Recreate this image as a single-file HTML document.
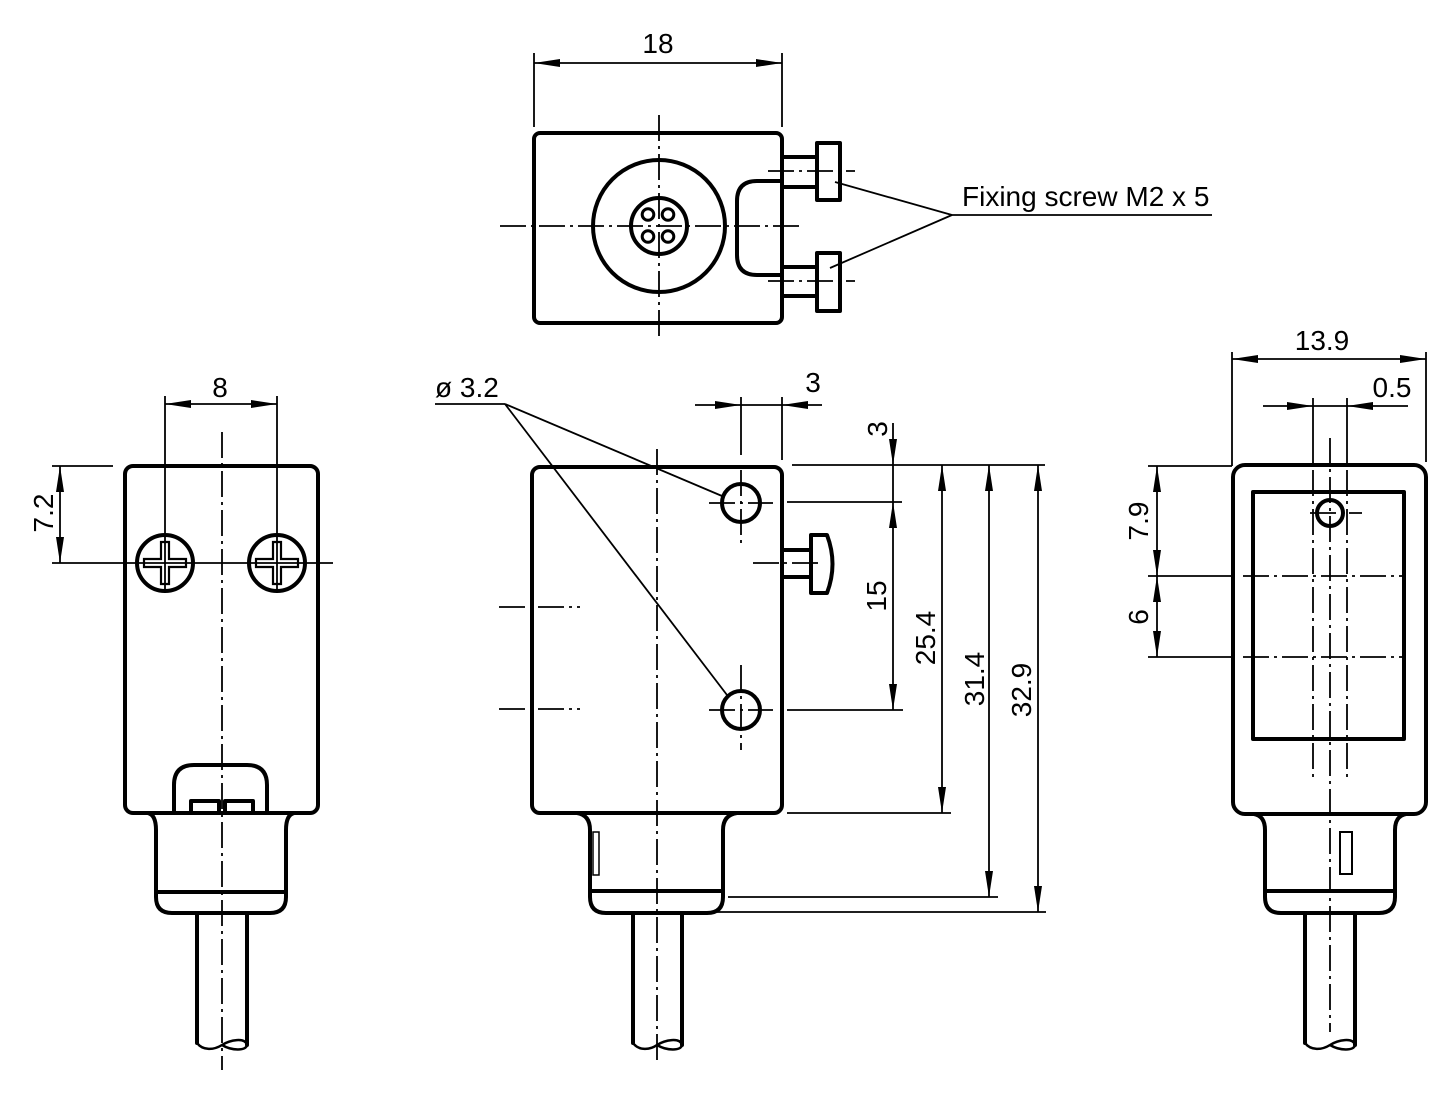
<!DOCTYPE html>
<html><head><meta charset="utf-8"><style>
html,body{margin:0;padding:0;background:#fff;}
svg{display:block;}
text{font-family:"Liberation Sans",Arial,sans-serif;font-size:28px;fill:#000;}
.k{fill:none;stroke:#000;stroke-width:4;stroke-linejoin:round;stroke-linecap:round;}
.d{fill:none;stroke:#000;stroke-width:1.8;}
.c{fill:none;stroke:#000;stroke-width:1.8;stroke-dasharray:26 5 3 5;}
.a{fill:#000;stroke:none;}
</style></head><body>
<svg width="1453" height="1098" viewBox="0 0 1453 1098" xmlns="http://www.w3.org/2000/svg">
<rect width="1453" height="1098" fill="#fff"/>

<!-- ===== TOP VIEW ===== -->
<line class="d" x1="534" y1="53" x2="534" y2="127"/>
<line class="d" x1="782" y1="53" x2="782" y2="127"/>
<line class="d" x1="534" y1="63" x2="782" y2="63"/>
<polygon class="a" points="534,63 560,59 560,67"/>
<polygon class="a" points="782,63 756,59 756,67"/>
<text x="658" y="53" text-anchor="middle">18</text>

<rect class="k" x="534" y="133" width="248" height="190" rx="6"/>
<circle class="k" cx="659" cy="226" r="66"/>
<circle class="k" cx="659" cy="226" r="28"/>
<circle fill="none" stroke="#000" stroke-width="3" cx="648" cy="214.5" r="5.8"/>
<circle fill="none" stroke="#000" stroke-width="3" cx="668" cy="214.5" r="5.8"/>
<circle fill="none" stroke="#000" stroke-width="3" cx="648" cy="236.5" r="5.8"/>
<circle fill="none" stroke="#000" stroke-width="3" cx="668" cy="236.5" r="5.8"/>
<line class="c" x1="659" y1="115" x2="659" y2="338"/>
<line class="c" x1="500" y1="226" x2="800" y2="226"/>
<!-- bracket -->
<path class="k" d="M782 181 L757 181 Q737 181 737 201 L737 255 Q737 275 757 275 L782 275"/>
<!-- screws -->
<path class="k" d="M782 157 L817 157 M782 187 L817 187"/>
<rect class="k" x="817" y="143" width="23" height="57"/>
<path class="k" d="M782 267 L817 267 M782 296 L817 296"/>
<rect class="k" x="817" y="253" width="23" height="58"/>
<line class="c" x1="768" y1="171" x2="855" y2="171"/>
<line class="c" x1="768" y1="281" x2="855" y2="281"/>
<!-- leaders -->
<line class="d" x1="835" y1="182" x2="952" y2="215"/>
<line class="d" x1="830" y1="268" x2="952" y2="215"/>
<line class="d" x1="952" y1="215" x2="1212" y2="215"/>
<text x="962" y="206">Fixing screw M2 x 5</text>

<!-- ===== LEFT VIEW ===== -->
<line class="d" x1="165" y1="396" x2="165" y2="593"/>
<line class="d" x1="277" y1="396" x2="277" y2="593"/>
<line class="d" x1="165" y1="404" x2="277" y2="404"/>
<polygon class="a" points="165,404 191,400 191,408"/>
<polygon class="a" points="277,404 251,400 251,408"/>
<text x="220" y="397" text-anchor="middle">8</text>

<line class="d" x1="52" y1="466" x2="113" y2="466"/>
<line class="d" x1="52" y1="563" x2="333" y2="563"/>
<line class="d" x1="60" y1="466" x2="60" y2="563"/>
<polygon class="a" points="60,466 56,492 64,492"/>
<polygon class="a" points="60,563 56,537 64,537"/>
<text transform="translate(53,513) rotate(-90)" text-anchor="middle">7.2</text>

<rect class="k" x="125" y="466" width="193" height="347" rx="8"/>
<line class="c" x1="222" y1="432" x2="222" y2="1070"/>
<circle class="k" cx="165" cy="563" r="28"/>
<circle class="k" cx="277" cy="563" r="28"/>
<polygon fill="none" stroke="#000" stroke-width="2.2" points="161,542 169,542 169,559 186,559 186,567 169,567 169,584 161,584 161,567 144,567 144,559 161,559"/>
<polygon fill="none" stroke="#000" stroke-width="2.2" points="273,542 281,542 281,559 298,559 298,567 281,567 281,584 273,584 273,567 256,567 256,559 273,559"/>
<!-- latch -->
<path class="k" d="M174 813 L174 785 Q174 765 194 765 L247 765 Q267 765 267 785 L267 813"/>
<rect class="k" x="191" y="801" width="28" height="12" stroke-width="3.2"/>
<rect class="k" x="225" y="801" width="28" height="12" stroke-width="3.2"/>
<!-- neck -->
<path class="k" d="M148 813 Q156 815 156 830 L156 897 Q156 913 172 913 L270 913 Q286 913 286 897 L286 830 Q286 815 294 813"/>
<line class="k" x1="156" y1="892" x2="286" y2="892"/>
<!-- cable -->
<path class="k" d="M197 913 L197 1043 M247 913 L247 1045"/>
<path fill="none" stroke="#000" stroke-width="2.5" d="M197 1043 C203 1051 214 1050 222 1045 C230 1040 245 1037 247 1045 C246 1051 232 1051 222 1045"/>

<!-- ===== MIDDLE VIEW ===== -->
<text x="435" y="397">ø 3.2</text>
<line class="d" x1="435" y1="404" x2="505" y2="404"/>
<line class="d" x1="505" y1="404" x2="722" y2="496"/>
<line class="d" x1="505" y1="404" x2="727" y2="695"/>

<rect class="k" x="532" y="467" width="250" height="346" rx="8"/>
<line class="c" x1="657" y1="449" x2="657" y2="1060"/>
<line class="c" x1="499" y1="607" x2="580" y2="607"/>
<line class="c" x1="499" y1="709" x2="580" y2="709"/>

<circle class="k" cx="741" cy="503" r="19"/>
<circle class="k" cx="741" cy="710" r="19"/>
<line class="d" x1="741" y1="397" x2="741" y2="455"/>
<line class="c" x1="741" y1="470" x2="741" y2="543"/>
<line class="c" x1="709" y1="503" x2="773" y2="503"/>
<line class="c" x1="741" y1="665" x2="741" y2="750"/>
<line class="c" x1="709" y1="710" x2="773" y2="710"/>

<!-- "3" horizontal -->
<line class="d" x1="782" y1="397" x2="782" y2="460"/>
<line class="d" x1="695" y1="405" x2="822" y2="405"/>
<polygon class="a" points="741,405 715,401 715,409"/>
<polygon class="a" points="782,405 808,401 808,409"/>
<text x="813" y="392" text-anchor="middle">3</text>

<!-- side screw -->
<path class="k" d="M782 550 L811 550 M782 577 L811 577"/>
<path class="k" d="M811 535 L827 535 Q838 564 827 593 L811 593 Z"/>
<line class="c" x1="753" y1="563" x2="820" y2="563"/>

<!-- neck -->
<path class="k" d="M577 813 Q590 815 590 830 L590 897 Q590 913 606 913 L707 913 Q723 913 723 897 L723 830 Q723 815 737 813"/>
<line class="k" x1="590" y1="891" x2="723" y2="891"/>
<rect x="593" y="832" width="6" height="43" fill="none" stroke="#000" stroke-width="1.5"/>
<path class="k" d="M633 913 L633 1043 M682 913 L682 1045"/>
<path fill="none" stroke="#000" stroke-width="2.5" d="M633 1043 C639 1051 650 1050 657 1045 C665 1040 680 1037 682 1045 C681 1051 667 1051 657 1045"/>

<!-- extension lines -->
<line class="d" x1="792" y1="465" x2="1045" y2="465"/>
<line class="d" x1="787" y1="502" x2="902" y2="502"/>
<line class="d" x1="787" y1="710" x2="903" y2="710"/>
<line class="d" x1="787" y1="813" x2="951" y2="813"/>
<line class="d" x1="728" y1="897" x2="998" y2="897"/>
<line class="d" x1="717" y1="912" x2="1046" y2="912"/>

<!-- vertical dims -->
<line class="d" x1="893" y1="423" x2="893" y2="710"/>
<polygon class="a" points="893,465 889,439 897,439"/>
<polygon class="a" points="893,502 889,528 897,528"/>
<polygon class="a" points="893,710 889,684 897,684"/>
<text transform="translate(887,429) rotate(-90)" text-anchor="middle">3</text>
<text transform="translate(886,596) rotate(-90)" text-anchor="middle">15</text>

<line class="d" x1="942" y1="465" x2="942" y2="813"/>
<polygon class="a" points="942,465 938,491 946,491"/>
<polygon class="a" points="942,813 938,787 946,787"/>
<text transform="translate(935,638) rotate(-90)" text-anchor="middle">25.4</text>

<line class="d" x1="989" y1="465" x2="989" y2="897"/>
<polygon class="a" points="989,465 985,491 993,491"/>
<polygon class="a" points="989,897 985,871 993,871"/>
<text transform="translate(984,679) rotate(-90)" text-anchor="middle">31.4</text>

<line class="d" x1="1038" y1="465" x2="1038" y2="912"/>
<polygon class="a" points="1038,465 1034,491 1042,491"/>
<polygon class="a" points="1038,912 1034,886 1042,886"/>
<text transform="translate(1031,690) rotate(-90)" text-anchor="middle">32.9</text>

<!-- ===== RIGHT VIEW ===== -->
<line class="d" x1="1232" y1="352" x2="1232" y2="466"/>
<line class="d" x1="1426" y1="352" x2="1426" y2="462"/>
<line class="d" x1="1232" y1="359" x2="1426" y2="359"/>
<polygon class="a" points="1232,359 1258,355 1258,363"/>
<polygon class="a" points="1426,359 1400,355 1400,363"/>
<text x="1322" y="350" text-anchor="middle">13.9</text>

<line class="d" x1="1263" y1="406" x2="1408" y2="406"/>
<polygon class="a" points="1313,406 1287,402 1287,410"/>
<polygon class="a" points="1347,406 1373,402 1373,410"/>
<text x="1392" y="397" text-anchor="middle">0.5</text>
<line class="d" x1="1313" y1="398" x2="1313" y2="465"/>
<line class="d" x1="1347" y1="398" x2="1347" y2="465"/>
<line class="c" x1="1313" y1="470" x2="1313" y2="778"/>
<line class="c" x1="1347" y1="470" x2="1347" y2="778"/>
<line class="c" x1="1330" y1="438" x2="1330" y2="1032"/>

<rect class="k" x="1233" y="465" width="193" height="349" rx="12"/>
<rect class="k" x="1253" y="492" width="151" height="247"/>
<circle class="k" cx="1330" cy="513" r="13"/>
<line class="c" x1="1310" y1="513" x2="1362" y2="513"/>

<line class="d" x1="1148" y1="466" x2="1232" y2="466"/>
<line class="d" x1="1148" y1="576" x2="1232" y2="576"/>
<line class="d" x1="1148" y1="657" x2="1232" y2="657"/>
<line class="c" x1="1243" y1="576" x2="1403" y2="576"/>
<line class="c" x1="1243" y1="657" x2="1403" y2="657"/>
<line class="d" x1="1157" y1="466" x2="1157" y2="657"/>
<polygon class="a" points="1157,466 1153,492 1161,492"/>
<polygon class="a" points="1157,576 1153,550 1161,550"/>
<polygon class="a" points="1157,576 1153,602 1161,602"/>
<polygon class="a" points="1157,657 1153,631 1161,631"/>
<text transform="translate(1148,521) rotate(-90)" text-anchor="middle">7.9</text>
<text transform="translate(1148,617) rotate(-90)" text-anchor="middle">6</text>

<!-- neck -->
<path class="k" d="M1254 814 Q1265 816 1265 830 L1265 897 Q1265 913 1281 913 L1379 913 Q1395 913 1395 897 L1395 830 Q1395 816 1406 814"/>
<line class="k" x1="1265" y1="891" x2="1395" y2="891"/>
<rect x="1340" y="832" width="12" height="42" fill="none" stroke="#000" stroke-width="2"/>
<path class="k" d="M1305 913 L1305 1043 M1355 913 L1355 1045"/>
<path fill="none" stroke="#000" stroke-width="2.5" d="M1305 1043 C1311 1051 1322 1050 1330 1045 C1338 1040 1353 1037 1355 1045 C1354 1051 1340 1051 1330 1045"/>
</svg>
</body></html>
